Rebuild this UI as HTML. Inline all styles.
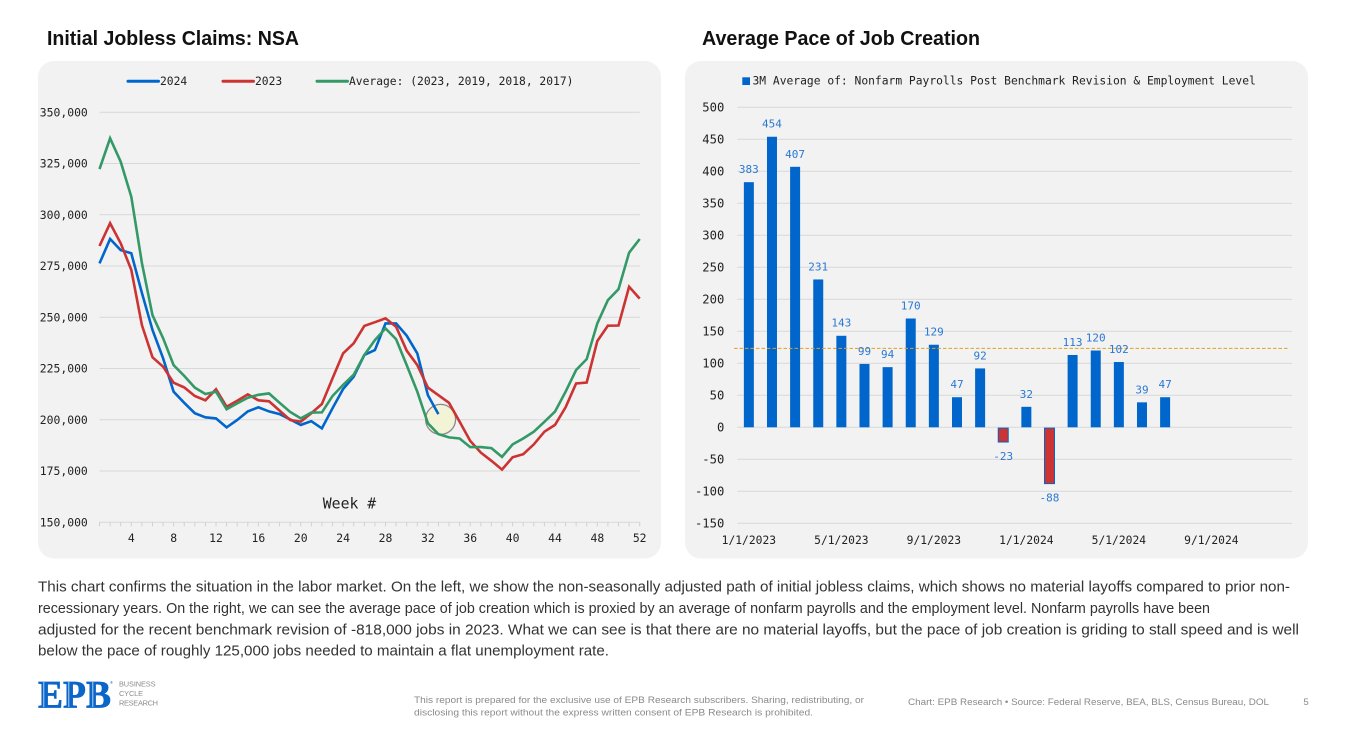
<!DOCTYPE html>
<html lang="en">
<head>
<meta charset="utf-8">
<title>Initial Jobless Claims and Average Pace of Job Creation</title>
<style>
html,body{margin:0;padding:0;background:#fff;width:1347px;height:753px;overflow:hidden}
svg{display:block;position:absolute;left:0;top:0}
text{font-family:"Liberation Sans",sans-serif}
.mono{font-family:"DejaVu Sans Mono","Liberation Mono",monospace;fill:#222}
.title{font-size:20px;font-weight:bold;fill:#111}
.para{font-size:14.4px;fill:#333}
.foot{font-size:9.6px;fill:#8a8a8a}
.logo-sub{font-size:7.4px;fill:#8c8c8c}
</style>
</head>
<body>
<svg id="page" width="1347" height="753" viewBox="0 0 1347 753" xmlns="http://www.w3.org/2000/svg">
  <text class="title" x="47" y="45" textLength="252" lengthAdjust="spacingAndGlyphs">Initial Jobless Claims: NSA</text>
  <text class="title" x="702" y="45" textLength="278" lengthAdjust="spacingAndGlyphs">Average Pace of Job Creation</text>
  <rect x="38" y="61" width="623" height="497.500" rx="16" fill="#f2f2f2"/>
  <rect x="685" y="61" width="623" height="497.500" rx="16" fill="#f2f2f2"/>
  <g id="claims-chart"></g>
  <g id="jobs-chart"></g>

  <g>
    <text class="para" x="38" y="591.700" textLength="1252" lengthAdjust="spacingAndGlyphs">This chart confirms the situation in the labor market. On the left, we show the non-seasonally adjusted path of initial jobless claims, which shows no material layoffs compared to prior non-</text>
    <text class="para" x="38" y="613" textLength="1172" lengthAdjust="spacingAndGlyphs">recessionary years. On the right, we can see the average pace of job creation which is proxied by an average of nonfarm payrolls and the employment level. Nonfarm payrolls have been</text>
    <text class="para" x="38" y="634.300" textLength="1261" lengthAdjust="spacingAndGlyphs">adjusted for the recent benchmark revision of -818,000 jobs in 2023. What we can see is that there are no material layoffs, but the pace of job creation is griding to stall speed and is well</text>
    <text class="para" x="38" y="655.700" textLength="571" lengthAdjust="spacingAndGlyphs">below the pace of roughly 125,000 jobs needed to maintain a flat unemployment rate.</text>
  </g>

  <g>
    <text x="38" y="707.500" textLength="73" lengthAdjust="spacingAndGlyphs" style="font-family:'Liberation Serif',serif;font-weight:bold;font-size:39px;fill:#0a66c8;stroke:#0a66c8;stroke-width:0.7">EPB</text>
    <g fill="#fff">
      <rect x="43.500" y="682" width="0.700" height="25"/>
      <rect x="68.500" y="682" width="0.700" height="25"/>
      <rect x="92.500" y="682" width="0.700" height="25"/>
    </g>
    <text x="110" y="684" style="font-size:4px;fill:#0a66c8">®</text>
    <text class="logo-sub" x="119" y="686.600" textLength="36.500">BUSINESS</text>
    <text class="logo-sub" x="119" y="696" textLength="24">CYCLE</text>
    <text class="logo-sub" x="119" y="705.500" textLength="39">RESEARCH</text>
  </g>

  <text class="foot" x="414" y="703" textLength="450" lengthAdjust="spacingAndGlyphs">This report is prepared for the exclusive use of EPB Research subscribers. Sharing, redistributing, or</text>
  <text class="foot" x="414" y="715.500" textLength="399" lengthAdjust="spacingAndGlyphs">disclosing this report without the express written consent of EPB Research is prohibited.</text>
  <text class="foot" x="908" y="705" textLength="361" lengthAdjust="spacingAndGlyphs">Chart: EPB Research  •  Source: Federal Reserve, BEA, BLS, Census Bureau, DOL</text>
  <text class="foot" x="1306" y="705" text-anchor="middle">5</text>
</svg>

<script>
// ---- Left chart data (thousands of claims by week) ----
var weekTickLabels = [4, 8, 12, 16, 20, 24, 28, 32, 36, 40, 44, 48, 52];
var claimsTicks = [150, 175, 200, 225, 250, 275, 300, 325, 350];
var claims2024 = [276.3, 288.2, 282.8, 281.2, 261.9, 243.8, 230, 213.7, 208.3, 203.2, 201.2, 200.7, 196.3, 199.9, 204.1, 206.1, 204.1, 202.8, 200.2, 197.5, 199.3, 195.8, 205.6, 215, 221, 231.6, 234, 247, 247, 241, 232.4, 212, 202.8];
var claims2023 = [284.8, 295.9, 286.1, 273.1, 246.2, 230.5, 225.9, 218.1, 215.8, 211.6, 209.5, 214.9, 206.4, 209.3, 212.4, 209.5, 209, 204.5, 199.9, 199.1, 203.2, 207.7, 220.2, 232.4, 237.3, 245.8, 247.6, 249.5, 245.4, 233.7, 226.7, 215.7, 212, 208.3, 199.1, 189.7, 184, 180, 175.7, 181.7, 183.2, 188, 194.2, 197.5, 206.1, 217.7, 218.2, 238.4, 245.9, 246, 264.9, 259.1];
var claimsAverage = [322.3, 337.3, 325.9, 308.8, 276.5, 251, 239.8, 226.7, 221.4, 215.7, 212.6, 213.7, 205.1, 208, 210.8, 212.2, 212.9, 208.3, 203.8, 200.7, 203.5, 203.6, 211.6, 217, 222, 231.6, 238.9, 244.6, 239.3, 226.7, 213.7, 198.3, 193, 191.4, 190.9, 186.7, 186.7, 186.2, 181.9, 188, 190.9, 194.2, 199, 204, 213.7, 224.3, 229.6, 247, 258.4, 263.7, 281.5, 288.2];
var claimsLegendLabels = ['2024', '2023', 'Average: (2023, 2019, 2018, 2017)'];

// ---- Right chart data (thousands of jobs, 3M average) ----
var jobMonths = ['1/1/2023','2/1/2023','3/1/2023','4/1/2023','5/1/2023','6/1/2023','7/1/2023','8/1/2023','9/1/2023','10/1/2023','11/1/2023','12/1/2023','1/1/2024','2/1/2024','3/1/2024','4/1/2024','5/1/2024','6/1/2024','7/1/2024','8/1/2024','9/1/2024','10/1/2024','11/1/2024','12/1/2024'];
var jobValues = [383, 454, 407, 231, 143, 99, 94, 170, 129, 47, 92, -23, 32, -88, 113, 120, 102, 39, 47];
var jobTicks = [-150, -100, -50, 0, 50, 100, 150, 200, 250, 300, 350, 400, 450, 500];
var breakevenPace = [123.4];
var jobsLegendLabels = ['3M Average of: Nonfarm Payrolls Post Benchmark Revision & Employment Level'];

var NS = 'http://www.w3.org/2000/svg';
function mk(parent, tag, attrs) {
  var el = document.createElementNS(NS, tag);
  for (var k in attrs) el.setAttribute(k, attrs[k]);
  parent.appendChild(el);
  return el;
}
function label(parent, x, y, str, size, anchor, fill) {
  var el = mk(parent, 'text', {x: x, y: y + size * 0.36, 'class': 'mono', 'text-anchor': anchor});
  el.style.fontSize = size + 'px';
  if (fill) el.style.fill = fill;
  el.textContent = str;
  return el;
}

// ===== Left chart =====
(function () {
  var root = document.getElementById('claims-chart');
  var x = function (week) { return 99.5 + (week - 1) * (639.7 - 99.5) / 51; };
  var y = function (v) { return 522.3 - (v - 150) * 410 / 200; };
  var i, el;

  for (i = 0; i < claimsTicks.length; i++) {
    el = mk(root, 'line', {x1: x(1), x2: x(52), y1: y(claimsTicks[i]), y2: y(claimsTicks[i]), stroke: '#d8d8d8', 'stroke-width': 1});
    
    
    el = label(root, 87.8, y(claimsTicks[i]), (claimsTicks[i] * 1000).toLocaleString('en-US'), 11.4, 'end');
    
    
  }
  for (i = 1; i <= 52; i++) {
    el = mk(root, 'line', {x1: x(i), x2: x(i), y1: y(150), y2: y(150) + 4, stroke: '#d0d0d0', 'stroke-width': 1});
    
    
  }
  for (i = 0; i < weekTickLabels.length; i++) {
    el = label(root, x(weekTickLabels[i]), 538, String(weekTickLabels[i]), 11.4, 'middle');
    
    
  }
  el = label(root, 349.5, 503, 'Week #', 14.8, 'middle');
  
  

  el = mk(root, 'circle', {cx: x(33.2), cy: y(200.2), r: 15, fill: '#f3f3d6', stroke: '#8a8a8a', 'stroke-width': 1.3});
  
  

  function path(values, color) {
    var pts = values.map(function (v, j) { return x(j + 1).toFixed(1) + ',' + y(v).toFixed(1); }).join(' ');
    return mk(root, 'polyline', {points: pts, fill: 'none', stroke: color, 'stroke-width': 2.6, 'stroke-linejoin': 'miter'});
  }
  el = path(claims2024, '#0066cc');
  
  
  el = path(claims2023, '#cc3333');
  
  
  el = path(claimsAverage, '#339966');
  
  

  var legendColors = ['#0066cc', '#cc3333', '#339966'];
  var legendStart = [128, 223, 317];
  for (i = 0; i < claimsLegendLabels.length; i++) {
    el = mk(root, 'line', {x1: legendStart[i], x2: legendStart[i] + 30.500, y1: 81.3, y2: 81.3, stroke: legendColors[i], 'stroke-width': 3, 'stroke-linecap': 'round'});
    
    
    el = label(root, legendStart[i] + 32, 81, claimsLegendLabels[i], 11.3, 'start');
    
    
  }
})();

// ===== Right chart =====
(function () {
  var root = document.getElementById('jobs-chart');
  var left = 737.3, right = 1292.3;
  var band = (right - left) / jobMonths.length;
  var x = function (i) { return left + band * (i + 0.5); };
  var y = function (v) { return 427.3 - v * 0.64; };
  var i, el;

  for (i = 0; i < jobTicks.length; i++) {
    el = mk(root, 'line', {x1: left, x2: right, y1: y(jobTicks[i]), y2: y(jobTicks[i]), stroke: '#d8d8d8', 'stroke-width': 1});
    
    
    el = label(root, 724.3, y(jobTicks[i]), String(jobTicks[i]), 12.2, 'end');
    
    
  }
  for (i = 0; i < jobMonths.length; i += 4) {
    el = label(root, x(i), 540, jobMonths[i], 11.3, 'middle');
    
    
  }
  for (i = 0; i < jobValues.length; i++) {
    var v = jobValues[i];
    var neg = v < 0;
    var top = neg ? y(0) + 0.8 : y(v);
    var h = neg ? y(v) - y(0) - 0.8 : y(0) - y(v);
    el = mk(root, 'rect', {x: x(i) - 5, y: top, width: 10, height: h, fill: neg ? '#cc3333' : '#0066cc', stroke: neg ? '#0066cc' : 'none', 'stroke-width': neg ? 1 : 0});
    
    
  }
  el = mk(root, 'line', {x1: 734, x2: 1287.7, y1: y(breakevenPace[0]), y2: y(breakevenPace[0]), stroke: '#e0a020', 'stroke-width': 1, 'stroke-dasharray': '3.500 2'});
  
  
  for (i = 0; i < jobValues.length; i++) {
    var val = jobValues[i];
    el = label(root, x(i), val < 0 ? y(val) + 14 : y(val) - 13, String(val), 11, 'middle', '#2a78d4');
    
    
  }
  el = mk(root, 'rect', {x: 742.3, y: 77.3, width: 7.7, height: 7.7, fill: '#0066cc'});
  
  
  el = label(root, 752.5, 80.5, jobsLegendLabels[0], 11.3, 'start');
  
  
})();
</script>
</body>
</html>
